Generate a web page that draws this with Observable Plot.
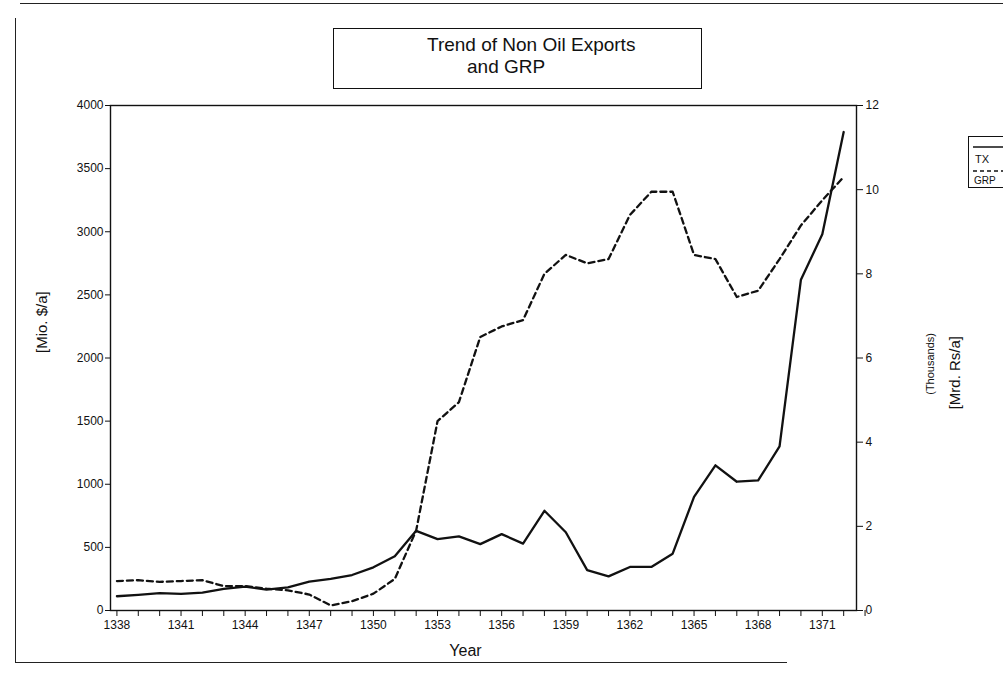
<!DOCTYPE html>
<html>
<head>
<meta charset="utf-8">
<script src="https://cdn.jsdelivr.net/npm/d3@7"></script>
<script src="https://cdn.jsdelivr.net/npm/@observablehq/plot@0.6"></script>
<style>
  html, body { margin: 0; padding: 0; background: #fff; }
  #wrap { position: relative; width: 1003px; height: 675px; overflow: hidden; font-family: "Liberation Sans", Arial, Helvetica, sans-serif; color: #111; }
  #chart { position: absolute; left: 0; top: 0; }
  .deco { position: absolute; background: #222; }
  #title { position: absolute; left: 333px; top: 28px; width: 369px; height: 61px; border: 1.3px solid #111; box-sizing: border-box; font-size: 19px; line-height: 22px; }
  #title .l1 { position: absolute; left: 93px; top: 5px; white-space: nowrap; }
  #title .l2 { position: absolute; left: 133px; top: 27px; white-space: nowrap; }
  #legend { position: absolute; left: 968px; top: 136px; width: 60px; height: 52px; border: 1.2px solid #111; box-sizing: border-box; }
</style>
</head>
<body>
<div id="wrap">
  <div class="deco" style="left:15px; top:18px; width:1.3px; height:645px;"></div>
  <div class="deco" style="left:15px; top:662px; width:772px; height:1.3px;"></div>
  <div class="deco" style="left:20px; top:3px; width:983px; height:1px;"></div>
  <div id="chart"></div>
  <div id="title"><span class="l1">Trend of Non Oil Exports</span><span class="l2">and GRP</span></div>
  <div id="legend">
    <svg width="60" height="52" style="position:absolute;left:0;top:0">
      <line x1="4" x2="60" y1="10" y2="10" stroke="#111" stroke-width="1.6"></line>
      <text x="6" y="26" font-size="11" fill="#111" font-family="Liberation Sans, Arial, sans-serif">TX</text>
      <line x1="4" x2="60" y1="34" y2="34" stroke="#111" stroke-width="1.6" stroke-dasharray="4,3"></line>
      <text x="5" y="47" font-size="10" fill="#111" font-family="Liberation Sans, Arial, sans-serif">GRP</text>
    </svg>
  </div>
</div>
<script>
const years = [1338,1339,1340,1341,1342,1343,1344,1345,1346,1347,1348,1349,1350,1351,1352,1353,1354,1355,1356,1357,1358,1359,1360,1361,1362,1363,1364,1365,1366,1367,1368,1369,1370,1371,1372];
// Non oil exports TX, Mio. $/a (left axis)
const tx = [113,124,138,131,142,171,189,166,184,229,250,281,342,429,631,565,587,526,605,530,790,620,320,270,345,345,450,900,1150,1020,1030,1300,2620,2980,3790];
// GRP, Thousands Mrd. Rs/a (right axis)
const grp = [0.70,0.72,0.68,0.70,0.72,0.58,0.58,0.52,0.48,0.38,0.12,0.22,0.40,0.75,1.90,4.50,4.95,6.50,6.75,6.90,8.00,8.45,8.25,8.35,9.40,9.95,9.95,8.45,8.35,7.45,7.60,8.35,9.15,9.75,10.30];
const xTickYears = [1338,1339,1340,1341,1342,1343,1344,1345,1346,1347,1348,1349,1350,1351,1352,1353,1354,1355,1356,1357,1358,1359,1360,1361,1362,1363,1364,1365,1366,1367,1368,1369,1370,1371,1372,1373];
const leftTicks = [0,500,1000,1500,2000,2500,3000,3500,4000];
const rightTicks = [0,2,4,6,8,10,12];

const K = 4000 / 12;
const data = years.map((y, i) => ({year: y, tx: tx[i], grp: grp[i]}));

const chart = Plot.plot({
  width: 1003,
  height: 675,
  marginLeft: 110,
  marginRight: 147,
  marginTop: 105,
  marginBottom: 65,
  style: {fontFamily: "Liberation Sans, Arial, Helvetica, sans-serif", fontSize: "12px", color: "#111", background: "transparent"},
  x: {domain: [1337.7, 1372.6]},
  y: {domain: [0, 4000]},
  marks: [
    Plot.axisX({ticks: xTickYears, tickFormat: d => (d - 1338) % 3 === 0 ? String(d) : "", tickSize: 6, tickPadding: 4, label: null, stroke: "#111", fontSize: 12}),
    Plot.axisY({ticks: leftTicks, tickFormat: d => String(d), tickSize: 5, tickPadding: 2, label: null, stroke: "#111", fontSize: 12}),
    Plot.axisY({anchor: "right", ticks: rightTicks.map(v => v * K), tickFormat: d => String(Math.round(d / K)), tickSize: 6, tickPadding: 3, label: null, stroke: "#111", fontSize: 12}),
    Plot.frame({stroke: "#111", strokeWidth: 1.4}),
    Plot.line(data, {x: "year", y: "tx", stroke: "#111", strokeWidth: 2.3}),
    Plot.line(data, {x: "year", y: d => d.grp * K, stroke: "#111", strokeWidth: 2.3, strokeDasharray: "6,4"}),
    Plot.text(["[Mio. $/a]"], {text: d => d, frameAnchor: "left", dx: -68, dy: -5, rotate: -90, fontSize: 15, fill: "#111"}),
    Plot.text(["(Thousands)"], {text: d => d, frameAnchor: "right", dx: 74, dy: -25, rotate: -90, fontSize: 11, fill: "#111"}),
    Plot.text(["[Mrd. Rs/a]"], {text: d => d, frameAnchor: "right", dx: 99, dy: -22, rotate: -90, fontSize: 15, fill: "#111"}),
    Plot.text(["Year"], {text: d => d, frameAnchor: "bottom", dx: -18, dy: 45, fontSize: 16, fill: "#111"})
  ]
});
document.getElementById("chart").appendChild(chart);
</script>
</body>
</html>
